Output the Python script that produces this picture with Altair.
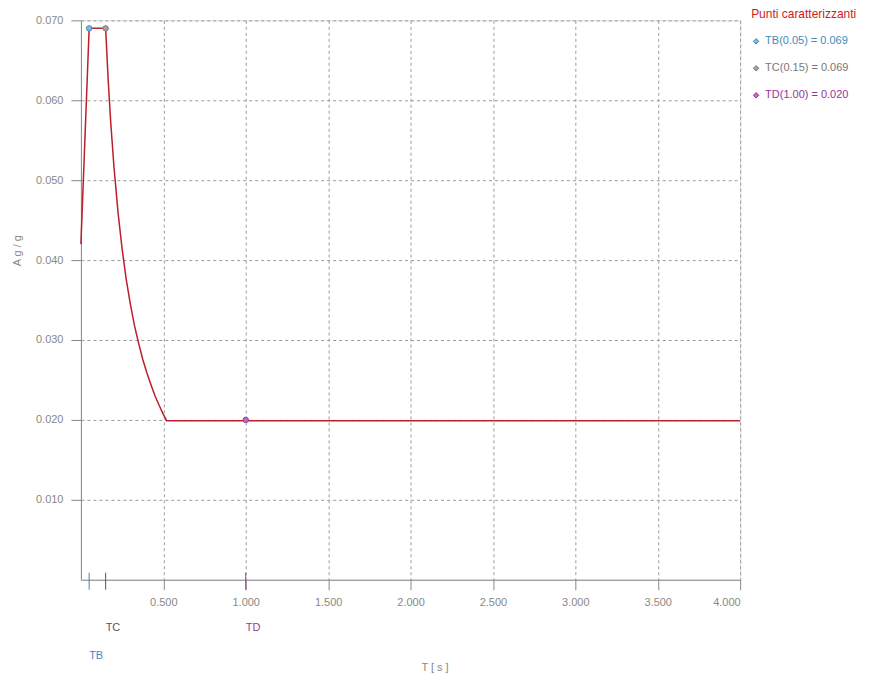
import altair as alt
import pandas as pd

# Spectrum
period = [0.0, 0.05, 0.15, 0.165, 0.18, 0.2, 0.225, 0.25, 0.275, 0.3, 0.325, 0.35, 0.375, 0.4, 0.425, 0.45, 0.475, 0.5, 0.52, 1.0, 4.0]
acc = [0.042, 0.069, 0.069, 0.0627, 0.0575, 0.0518, 0.046, 0.0414, 0.0376, 0.0345, 0.0318, 0.0296, 0.0276, 0.0259, 0.0244, 0.0230, 0.0218, 0.0207, 0.0199, 0.0199, 0.0199]

# Characteristic points
char_label = ["TB", "TC", "TD"]
char_T = [0.05, 0.15, 1.00]
char_val = [0.069, 0.069, 0.020]

x_ticks = [0.5, 1.0, 1.5, 2.0, 2.5, 3.0, 3.5, 4.0]
y_ticks = [0.01, 0.02, 0.03, 0.04, 0.05, 0.06, 0.07]

marker_fill = ["#7fb8e0", "#a8a0a0", "#c466c4"]
marker_stroke = ["#3f88bb", "#7f7777", "#9a3a9a"]
text_colors = ["#3d8cc0", "#777777", "#9a2f9a"]
line_color = "#bb1f2a"
grey = "#888888"
FONT = "Liberation Sans"

spec = pd.DataFrame({"T": period, "v": acc})
chars = pd.DataFrame({"label": char_label, "T": char_T, "v": char_val})
chars["legend"] = [f"{l}({t:.2f}) = {v:.3f}" for l, t, v in zip(char_label, char_T, char_val)]

xscale = alt.Scale(domain=[0, 4], nice=False, zero=True)
yscale = alt.Scale(domain=[0, 0.07], nice=False)

x_axis = alt.Axis(
    values=x_ticks, format=".3f", title="T   [ s ]", grid=True,
    gridDash=[3, 3], gridColor="#9a9a9a", gridWidth=1,
    domainColor=grey, tickColor=grey, tickSize=10, labelColor=grey,
    labelFont=FONT, labelFontSize=11, labelPadding=7,
    titleFont=FONT, titleFontSize=11, titleFontWeight="normal", titleColor=grey,
    titleX=354, titleY=88, titleBaseline="middle", titleAlign="center",
)
y_axis = alt.Axis(
    values=y_ticks, format=".3f", title="A g / g", grid=True,
    gridDash=[3, 3], gridColor="#9a9a9a", gridWidth=1,
    domainColor=grey, tickColor=grey, tickSize=10, labelColor=grey,
    labelFont=FONT, labelFontSize=11, labelPadding=8,
    titleFont=FONT, titleFontSize=11, titleFontWeight="normal", titleColor=grey,
    titleX=-63, titleY=230, titleAngle=270, titleAlign="center", titleBaseline="middle",
)

line = alt.Chart(spec).mark_line(color=line_color, strokeWidth=1.5).encode(
    x=alt.X("T:Q", scale=xscale, axis=x_axis),
    y=alt.Y("v:Q", scale=yscale, axis=y_axis),
)

pts = alt.Chart(chars).mark_point(filled=True, size=30, opacity=1, strokeWidth=1).encode(
    x=alt.X("T:Q", scale=xscale),
    y=alt.Y("v:Q", scale=yscale),
    fill=alt.Fill("label:N", scale=alt.Scale(domain=char_label, range=marker_fill), legend=None),
    stroke=alt.Stroke("label:N", scale=alt.Scale(domain=char_label, range=marker_stroke), legend=None),
)

tick_rules = alt.Chart(chars).mark_rule(strokeWidth=1).encode(
    x=alt.X("T:Q", scale=xscale),
    y=alt.value(553), y2=alt.value(570),
    color=alt.Color("label:N", scale=alt.Scale(domain=char_label, range=["#3f88bb", "#555555", "#9a3a9a"]), legend=None),
)

tick_text_top = alt.Chart(chars).transform_filter(alt.datum.label != "TB").mark_text(
    align="left", baseline="middle", font=FONT, fontSize=11, dx=0
).encode(
    x=alt.X("T:Q", scale=xscale),
    y=alt.value(608),
    text="label:N",
    color=alt.Color("label:N", scale=alt.Scale(domain=char_label, range=text_colors), legend=None),
)
tick_text_low = alt.Chart(chars).transform_filter(alt.datum.label == "TB").mark_text(
    align="left", baseline="middle", font=FONT, fontSize=11, dx=0
).encode(
    x=alt.X("T:Q", scale=xscale),
    y=alt.value(636),
    text="label:N",
    color=alt.Color("label:N", scale=alt.Scale(domain=char_label, range=text_colors), legend=None),
)

leg_y = alt.Y("label:N", scale=alt.Scale(type="point", domain=char_label, range=[21, 75], padding=0), axis=None)

leg_title = alt.Chart(pd.DataFrame({"t": ["Punti caratterizzanti"]})).mark_text(
    align="left", baseline="middle", font=FONT, fontSize=12, color="#d02020"
).encode(x=alt.value(671), y=alt.value(-6), text="t:N")

leg_sym = alt.Chart(chars).mark_point(shape="diamond", filled=True, size=30, opacity=1, strokeWidth=1).encode(
    x=alt.value(676),
    y=leg_y,
    fill=alt.Fill("label:N", scale=alt.Scale(domain=char_label, range=marker_fill), legend=None),
    stroke=alt.Stroke("label:N", scale=alt.Scale(domain=char_label, range=marker_stroke), legend=None),
)
leg_text = alt.Chart(chars).mark_text(align="left", baseline="middle", font=FONT, fontSize=11).encode(
    x=alt.value(685),
    y=leg_y,
    text="legend:N",
    color=alt.Color("label:N", scale=alt.Scale(domain=char_label, range=text_colors), legend=None),
)

main = alt.layer(line, tick_rules, pts, tick_text_top, tick_text_low)
legend = alt.layer(leg_title, leg_sym, leg_text)

chart = alt.layer(main, legend).resolve_scale(y="independent", color="independent").properties(
    width=660, height=560,
    autosize=alt.AutoSizeParams(type="none"),
    padding={"left": 73, "top": 12, "right": 128, "bottom": 97},
).configure_view(stroke=None).configure(background="white")

chart.save("out.html", embed_options={"renderer": "svg", "actions": False})
